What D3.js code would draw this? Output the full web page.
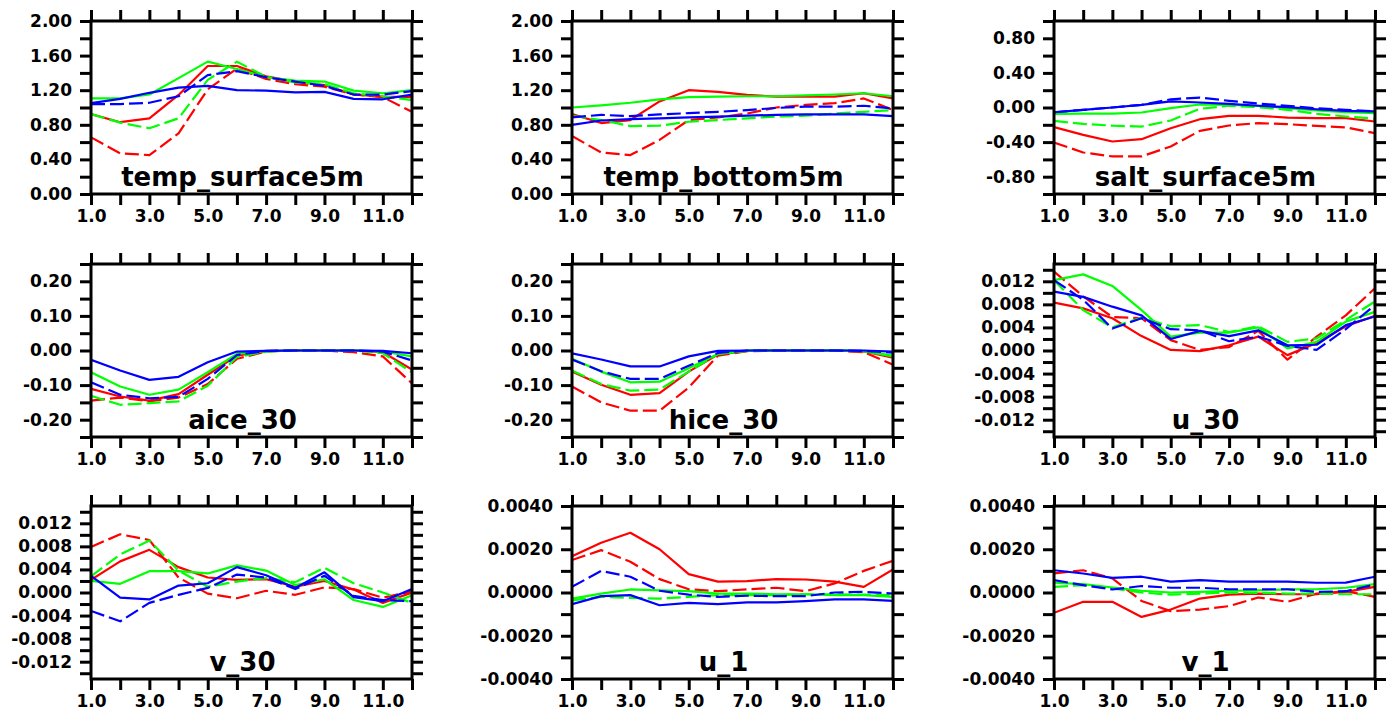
<!DOCTYPE html>
<html><head><meta charset="utf-8">
<script src="https://cdn.jsdelivr.net/npm/d3@7"></script>
<style>body{margin:0;background:#fff}svg{display:block}</style>
</head><body><svg id="c" width="1390" height="710"></svg>
<script>
// ---------- data ----------
const months = [1,2,3,4,5,6,7,8,9,10,11,12];
const seriesNames = ["red solid","red dashed","green solid","green dashed","blue solid","blue dashed"];
const seriesColors = ["#ff0000","#ff0000","#00ff00","#00ff00","#0000ff","#0000ff"];
const seriesDashed = [false,true,false,true,false,true];

const panelTitles = ["temp_surface5m","temp_bottom5m","salt_surface5m","aice_30","hice_30","u_30","v_30","u_1","v_1"];

const tempSurface5m = [
  [0.925,0.83,0.875,1.145,1.48,1.48,1.36,1.30,1.26,1.15,1.125,1.12],
  [0.655,0.47,0.45,0.70,1.21,1.45,1.33,1.27,1.24,1.15,1.12,0.95],
  [1.105,1.105,1.15,1.34,1.53,1.445,1.35,1.31,1.30,1.195,1.165,1.20],
  [0.925,0.825,0.76,0.875,1.32,1.53,1.355,1.29,1.27,1.165,1.13,1.085],
  [1.05,1.10,1.17,1.23,1.25,1.20,1.195,1.175,1.18,1.10,1.095,1.15],
  [1.04,1.04,1.055,1.13,1.375,1.42,1.35,1.30,1.25,1.15,1.15,1.19]
];
const tempBottom5m = [
  [0.925,0.82,0.855,1.07,1.20,1.18,1.145,1.125,1.125,1.125,1.165,1.105],
  [0.67,0.48,0.45,0.625,0.855,0.885,0.93,1.00,1.03,1.05,1.105,0.97],
  [1.00,1.025,1.055,1.095,1.12,1.125,1.13,1.13,1.14,1.15,1.165,1.13],
  [0.905,0.855,0.785,0.79,0.835,0.855,0.875,0.895,0.905,0.93,0.95,0.97],
  [0.80,0.85,0.865,0.875,0.885,0.895,0.905,0.915,0.92,0.92,0.92,0.90],
  [0.885,0.915,0.90,0.92,0.935,0.95,0.97,0.995,1.01,1.01,1.02,0.99]
];
const saltSurface5m = [
  [-0.227,-0.316,-0.393,-0.366,-0.24,-0.135,-0.096,-0.096,-0.116,-0.123,-0.123,-0.162],
  [-0.405,-0.52,-0.566,-0.566,-0.45,-0.27,-0.208,-0.18,-0.193,-0.212,-0.23,-0.297],
  [-0.073,-0.07,-0.07,-0.058,-0.008,0.035,0.03,0.02,-0.008,-0.035,-0.055,-0.065],
  [-0.155,-0.19,-0.21,-0.22,-0.15,-0.015,0.02,0.004,-0.027,-0.073,-0.104,-0.13],
  [-0.055,-0.027,0.0,0.03,0.07,0.058,0.042,0.02,0.004,-0.02,-0.04,-0.045],
  [-0.055,-0.027,0.0,0.03,0.095,0.115,0.077,0.046,0.02,-0.01,-0.027,-0.045]
];
const aice30 = [
  [-0.111,-0.133,-0.145,-0.126,-0.07,-0.015,-0.002,0,0,0,-0.005,-0.055],
  [-0.145,-0.136,-0.147,-0.136,-0.097,-0.024,-0.003,0,0,-0.005,-0.017,-0.095],
  [-0.063,-0.104,-0.128,-0.113,-0.063,-0.01,-0.002,0,0,0,-0.003,-0.017],
  [-0.131,-0.157,-0.152,-0.147,-0.102,-0.019,-0.003,0,0,0,-0.008,-0.063],
  [-0.027,-0.058,-0.085,-0.076,-0.034,-0.003,-0.001,0,0,0,-0.001,-0.008],
  [-0.092,-0.128,-0.138,-0.134,-0.082,-0.013,-0.001,0,0,0,-0.003,-0.029]
];
const hice30 = [
  [-0.061,-0.099,-0.128,-0.123,-0.061,-0.012,-0.001,0,0,0,-0.003,-0.021],
  [-0.104,-0.15,-0.174,-0.174,-0.107,-0.015,-0.002,0,0,0,-0.005,-0.041],
  [-0.024,-0.061,-0.092,-0.09,-0.051,-0.01,-0.001,0,0,0,-0.002,-0.017],
  [-0.058,-0.097,-0.116,-0.113,-0.061,-0.01,-0.001,0,0,0,-0.002,-0.015],
  [-0.008,-0.026,-0.046,-0.046,-0.017,-0.001,0,0,0,0,0,-0.003],
  [-0.026,-0.06,-0.082,-0.082,-0.044,-0.007,0,0,0,0,-0.001,-0.006]
];
const u30 = [
  [0.0083,0.0073,0.0056,0.0025,0.0001,-0.0001,0.0009,0.0024,-0.0008,0.0013,0.0042,0.0060],
  [0.0137,0.0094,0.0058,0.0056,0.0018,0.0001,0.0006,0.0034,-0.0016,0.0024,0.0061,0.0108],
  [0.0122,0.0132,0.0112,0.0070,0.0024,0.0031,0.0031,0.0040,0.00035,0.0015,0.0050,0.0067],
  [0.0122,0.0070,0.0040,0.0057,0.0042,0.0044,0.0032,0.0042,0.0015,0.0021,0.0053,0.0085],
  [0.0102,0.0093,0.0076,0.0061,0.0020,0.0034,0.0025,0.0035,0.0009,0.0010,0.0044,0.0059],
  [0.0122,0.0088,0.0038,0.0056,0.0037,0.0035,0.0016,0.0024,0.0008,0.0001,0.0037,0.0079]
];
const v30 = [
  [0.0022,0.0054,0.0074,0.0044,0.0026,0.0022,0.0023,0.0010,0.0020,0.0005,-0.0018,0.0000],
  [0.0079,0.0101,0.0091,0.0026,-0.0002,-0.0010,0.0003,-0.0004,0.0009,0.0006,-0.0009,0.0002],
  [0.0020,0.0015,0.0037,0.0037,0.0033,0.0047,0.0038,0.0013,0.0023,-0.0013,-0.0025,-0.0005],
  [0.0028,0.0066,0.0090,0.0038,0.0010,0.0019,0.0025,0.0018,0.0043,0.0016,0.0000,-0.0018],
  [0.0029,-0.0009,-0.0012,0.0012,0.0016,0.0044,0.0030,0.0008,0.0035,-0.0008,-0.0015,0.0006],
  [-0.0032,-0.0050,-0.0018,-0.0004,0.0008,0.0031,0.0026,0.0006,0.0029,-0.0006,-0.0013,-0.0015]
];
const u1 = [
  [0.00168,0.0023,0.00276,0.0020,0.00085,0.0005,0.00053,0.00062,0.0006,0.0005,0.00026,0.00107],
  [0.0015,0.00196,0.00142,0.00062,0.00015,0.00006,0.00015,0.00022,0.00006,0.00042,0.0010,0.00147],
  [-0.00028,-0.00005,0.00014,0.0001,0.00006,-0.00005,-0.00005,-0.00008,-0.00008,-0.00012,-0.00012,-0.0002],
  [-0.00036,-0.0002,-0.00025,-0.00028,-0.0002,-0.00012,-0.00012,-0.00012,-0.00008,-0.00008,-0.0001,-0.00012],
  [-0.00054,-0.00017,-0.00012,-0.00059,-0.00048,-0.00054,-0.00046,-0.00046,-0.0004,-0.00032,-0.00032,-0.00039],
  [0.00026,0.0010,0.00073,0.00008,-0.0001,-0.0002,-0.00015,-0.00017,-0.00017,0.0,0.00003,-0.00005]
];
const v1 = [
  [-0.00094,-0.00043,-0.00043,-0.00113,-0.00079,-0.00028,-0.0001,-0.00005,-0.00008,-0.00008,0.00003,0.00026],
  [0.00088,0.00103,0.00065,-0.00039,-0.00086,-0.00079,-0.00063,-0.00023,-0.00043,-0.00005,0.00006,-0.0002],
  [0.00045,0.00039,0.00023,0.00008,0.0,0.00003,0.00008,0.0001,0.00014,0.00015,0.00022,0.00039],
  [0.00026,0.00034,0.00019,0.0,-0.0001,-0.00005,0.0,-0.00002,-0.00005,-0.00005,-0.00008,-0.00008],
  [0.00103,0.00088,0.00068,0.00073,0.0005,0.00057,0.0005,0.0005,0.0005,0.00045,0.00046,0.00073],
  [0.00057,0.00034,0.00014,0.0003,0.00022,0.00022,0.00015,0.00015,0.00015,0.00003,0.00006,0.00037]
];
const panelData = [tempSurface5m, tempBottom5m, saltSurface5m, aice30, hice30, u30, v30, u1, v1];

// y-axis definitions
const yDomains = [[0,2],[0,2],[-1,1],[-0.25,0.25],[-0.25,0.25],[-0.015,0.015],[-0.015,0.015],[-0.004,0.004],[-0.004,0.004]];
const yTickSteps = [0.2,0.2,0.2,0.05,0.05,0.002,0.002,0.001,0.001];
const yLabelSteps = [0.4,0.4,0.4,0.1,0.1,0.004,0.004,0.002,0.002];
const yDecimals = [2,2,2,2,2,3,3,4,4];
const xTicks = [1,2,3,4,5,6,7,8,9,10,11,12];
const xLabelTicks = [1,3,5,7,9,11];

// ---------- layout ----------
const colLeft = [91, 572, 1054];
const rowTop = [21, 264, 506];
const W = 321, H = 173;
const svg = d3.select("#c");
const FONT = "'DejaVu Sans', sans-serif";

panelData.forEach((data, p) => {
  const left = colLeft[p % 3], top = rowTop[Math.floor(p / 3)];
  const g = svg.append("g").attr("transform", `translate(${left},${top})`);
  const x = d3.scaleLinear().domain([1, 12]).range([0, W]);
  const y = d3.scaleLinear().domain(yDomains[p]).range([H, 0]);
  const [y0, y1] = yDomains[p];
  const st = yTickSteps[p];
  const yt = d3.range(Math.round(Math.ceil(y0 / st - 1e-6)), Math.floor(y1 / st + 1e-6) + 1).map(i => +(i * st).toFixed(8));
  const ls = yLabelSteps[p];
  const isLabel = v => Math.abs(v / ls - Math.round(v / ls)) < 1e-6;
  const fmt = v => (Math.abs(v) < 1e-12 ? 0 : v).toFixed(yDecimals[p]);

  // lines
  const line = d3.line().x((d, i) => x(months[i])).y(d => y(d));
  g.append("defs").append("clipPath").attr("id", "cl" + p)
    .append("rect").attr("width", W).attr("height", H);
  const lg = g.append("g").attr("clip-path", `url(#cl${p})`);
  data.forEach((s, k) => {
    lg.append("path").attr("d", line(s)).attr("fill", "none")
      .attr("stroke", seriesColors[k]).attr("stroke-width", 2.2)
      .attr("stroke-dasharray", seriesDashed[k] ? "14,5" : null)
      .attr("stroke-linejoin", "round");
  });

  // axes
  const tickLen = 11;
  const styleAxis = (a) => {
    a.select(".domain").remove();
    a.selectAll(".tick line").attr("stroke", "#000").attr("stroke-width", 3);
    a.selectAll("text").attr("font-family", FONT).attr("font-weight", "bold").attr("font-size", 17).attr("fill", "#000");
  };
  const axL = g.append("g").call(d3.axisLeft(y).tickValues(yt).tickSize(tickLen).tickPadding(8).tickFormat(v => isLabel(v) ? fmt(v) : ""));
  styleAxis(axL);
  const axR = g.append("g").attr("transform", `translate(${W},0)`).call(d3.axisRight(y).tickValues(yt).tickSize(tickLen).tickFormat(""));
  styleAxis(axR);
  const axB = g.append("g").attr("transform", `translate(0,${H})`).call(d3.axisBottom(x).tickValues(xTicks).tickSize(tickLen).tickPadding(5).tickFormat(v => xLabelTicks.includes(v) ? v.toFixed(1) : ""));
  styleAxis(axB);
  const axT = g.append("g").call(d3.axisTop(x).tickValues(xTicks).tickSize(tickLen).tickFormat(""));
  styleAxis(axT);

  g.append("rect").attr("width", W).attr("height", H).attr("fill", "none").attr("stroke", "#000").attr("stroke-width", 3);

  g.append("text").attr("x", W / 2 - 9).attr("y", H - 8).attr("text-anchor", "middle")
    .attr("font-family", FONT).attr("font-weight", "bold").attr("font-size", 26).attr("fill", "#000")
    .text(panelTitles[p]);
});
</script></body></html>
